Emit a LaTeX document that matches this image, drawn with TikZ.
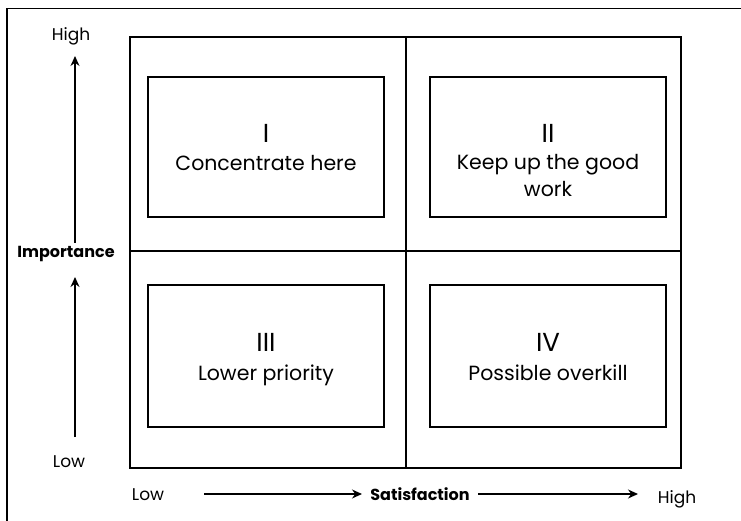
\documentclass[tikz,border=0pt]{standalone}
\usepackage{fontspec}
\setmainfont{Poppins}
\usetikzlibrary{arrows.meta}
\begin{document}
\begin{tikzpicture}[x=1pt,y=-1pt,
  frame/.style={line width=1.6pt},
  grid/.style={line width=1.8pt},
  midline/.style={line width=1.4pt},
  inbox/.style={draw,line width=1.1pt,inner sep=0pt},
  numeral/.style={anchor=base,inner sep=0pt,font=\fontsize{26}{30}\selectfont},
  boxtext/.style={anchor=base,inner sep=0pt,font=\fontsize{20.5}{24}\selectfont},
  axislabel/.style={anchor=base,inner sep=0pt,font=\fontsize{17}{20}\selectfont},
  axistitle/.style={anchor=base,inner sep=0pt,font=\bfseries\fontsize{16}{19}\selectfont},
  axarrow/.style={line width=1.4pt,-{Stealth[length=10pt,width=9pt]}}]
\useasboundingbox (0,0) rectangle (741,521);
% outer frame (runs off the right and bottom edges)
\draw[frame] (7,530) -- (7,8.5) -- (750,8.5);
% main grid
\coordinate (gtl) at (130,37);
\coordinate (gbr) at (681,468);
\draw[grid] (gtl) rectangle (gbr);
\coordinate (vt) at (406,37);
\coordinate (vb) at (406,468);
\coordinate (hl) at (130,251);
\coordinate (hr) at (681,251);
\draw[midline] (vt) -- (vb);
\draw[midline] (hl) -- (hr);
% inner boxes
\draw[inbox] (148,77) rectangle (384,217);
\draw[inbox] (430,77) rectangle (666,217);
\draw[inbox] (148,285) rectangle (384,427);
\draw[inbox] (430,285) rectangle (666,427);
% box texts
\node[numeral] (n1) at (266,143) {I};
\node[boxtext] (t1) at (266,171) {Concentrate here};
\node[numeral] (n2) at (548,143) {II};
\node[boxtext] (t2a) at (548,170) {Keep up the good};
\node[boxtext] (t2b) at (548,197) {work};
\node[numeral] (n3) at (266,351) {III};
\node[boxtext] (t3) at (266,380) {Lower priority};
\node[numeral] (n4) at (548,351) {IV};
\node[boxtext] (t4) at (548,380) {Possible overkill};
% vertical axis
\node[axislabel] (vhigh) at (71,41) {High};
\node[axistitle] (imp) at (66,258) {Importance};
\node[axislabel] (vlow) at (69,467) {Low};
\coordinate (va1) at (75,243);
\coordinate (va2) at (75,56);
\coordinate (vb1) at (75,437);
\coordinate (vb2) at (75,277);
\draw[axarrow] (va1) -- (va2);
\draw[axarrow] (vb1) -- (vb2);
% horizontal axis
\node[axislabel] (hlow) at (148,500) {Low};
\node[axistitle] (sat) at (420,500) {Satisfaction};
\node[axislabel] (hhigh) at (677,503) {High};
\coordinate (ha1) at (204,494);
\coordinate (ha2) at (362,494);
\coordinate (hb1) at (478,494);
\coordinate (hb2) at (638,494);
\draw[axarrow] (ha1) -- (ha2);
\draw[axarrow] (hb1) -- (hb2);
\end{tikzpicture}
\end{document}
